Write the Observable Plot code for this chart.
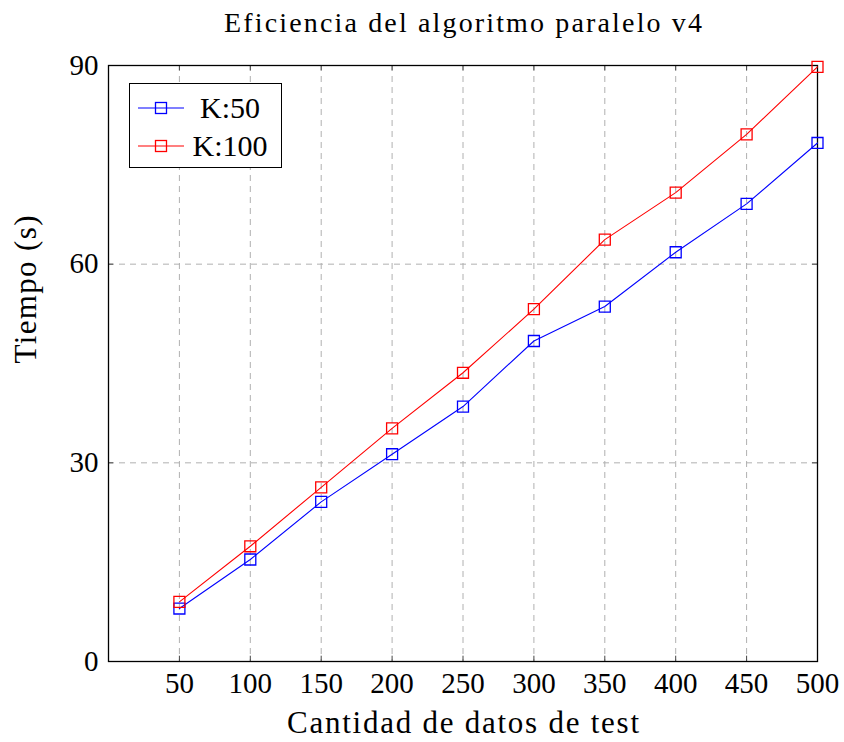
<!DOCTYPE html>
<html>
<head>
<meta charset="utf-8">
<script src="https://cdn.jsdelivr.net/npm/d3@7"></script>
<script src="https://cdn.jsdelivr.net/npm/@observablehq/plot@0.6"></script>
<style>
  body { margin: 0; background: #fff; }
  #wrap { position: relative; width: 844px; height: 742px; font-family: "Liberation Serif", "DejaVu Serif", serif; }
  #legend { position: absolute; left: 129px; top: 83px; width: 151px; height: 83px; border: 1.3px solid #000; background: #fff; box-sizing: content-box; }
  .row { position: absolute; left: 0; height: 32px; width: 151px; }
  .row svg { position: absolute; left: 8px; top: 0; }
  .row span { position: absolute; left: 100px; top: 0; transform: translateX(-50%); line-height: 32px; font-size: 30px; color: #000; white-space: nowrap; }
</style>
</head>
<body>
<div id="wrap"></div>
<script>
const xs = [50, 100, 150, 200, 250, 300, 350, 400, 450, 500];
const k50 = [8.0, 15.4, 24.1, 31.3, 38.5, 48.4, 53.6, 61.8, 69.1, 78.3];
const k100 = [9.0, 17.4, 26.3, 35.2, 43.6, 53.2, 63.7, 70.8, 79.6, 89.8];
const seriesNames = ["K:50", "K:100"];
const seriesColors = ["#0000ff", "#ff0000"];
const xTicks = [50, 100, 150, 200, 250, 300, 350, 400, 450, 500];
const yTicks = [0, 30, 60, 90];
const title = "Eficiencia del algoritmo paralelo v4";
const xLabel = "Cantidad de datos de test";
const yLabel = "Tiempo (s)";

const data = [];
[k50, k100].forEach((vals, si) => vals.forEach((v, i) => data.push({x: xs[i], y: v, s: seriesNames[si]})));

const chart = Plot.plot({
  width: 844,
  height: 742,
  marginLeft: 108,
  marginRight: 27,
  marginTop: 65,
  marginBottom: 81,
  style: {fontFamily: "'Liberation Serif', 'DejaVu Serif', serif", fontSize: "30px", background: "#fff", color: "#000"},
  x: {domain: [0, 500]},
  y: {domain: [0, 90]},
  color: {domain: seriesNames, range: seriesColors},
  marks: [
    Plot.ruleX(xTicks.filter(t => t < 500), {stroke: "#b0b0b0", strokeDasharray: "6,5", strokeWidth: 1}),
    Plot.ruleY(yTicks.filter(t => t > 0 && t < 90), {stroke: "#b0b0b0", strokeDasharray: "6,5", strokeWidth: 1}),
    Plot.ruleX(xTicks, {y1: 0, y2: 0.8, stroke: "#444"}),
    Plot.ruleX(xTicks, {y1: 89.2, y2: 90, stroke: "#444"}),
    Plot.ruleY(yTicks, {x1: 0, x2: 3.6, stroke: "#444"}),
    Plot.ruleY(yTicks, {x1: 496.4, x2: 500, stroke: "#444"}),
    Plot.frame({stroke: "#000", strokeWidth: 1.3}),
    Plot.axisX({ticks: xTicks, tickSize: 0, tickPadding: 11, fontSize: 29, label: null}),
    Plot.axisY({ticks: yTicks, tickSize: 0, tickPadding: 10, fontSize: 29, label: null}),
    Plot.line(data, {x: "x", y: "y", z: "s", stroke: "s", strokeWidth: 1.1}),
    Plot.dot(data, {x: "x", y: "y", stroke: "s", symbol: "square", r: 6.2, fill: "none", strokeWidth: 1.3}),
    Plot.text([title], {frameAnchor: "top", dy: -53, fontSize: 28, text: d => d}),
    Plot.text([xLabel], {frameAnchor: "bottom", dy: 71, fontSize: 31, text: d => d}),
    Plot.text([yLabel], {frameAnchor: "left", dx: -82, rotate: -90, fontSize: 31, text: d => d})
  ]
});

// stretch the labels to the extents of the original's wider typeface
const fits = {[title]: 478, [xLabel]: 352, [yLabel]: 148};
chart.querySelectorAll("text").forEach(t => {
  const w = fits[t.textContent];
  if (w) { t.setAttribute("textLength", w); t.setAttribute("lengthAdjust", "spacing"); }
});

const wrap = document.getElementById("wrap");
wrap.appendChild(chart);

const legend = document.createElement("div");
legend.id = "legend";
seriesNames.forEach((name, i) => {
  const row = document.createElement("div");
  row.className = "row";
  row.style.top = (8 + i * 38) + "px";
  row.innerHTML = `<svg width="50" height="32"><line x1="0" y1="16" x2="46" y2="16" stroke="${seriesColors[i]}" stroke-width="1.1"/><rect x="17.5" y="10.5" width="11" height="11" fill="none" stroke="${seriesColors[i]}" stroke-width="1.3"/></svg><span>${name}</span>`;
  legend.appendChild(row);
});
wrap.appendChild(legend);
</script>
</body>
</html>
